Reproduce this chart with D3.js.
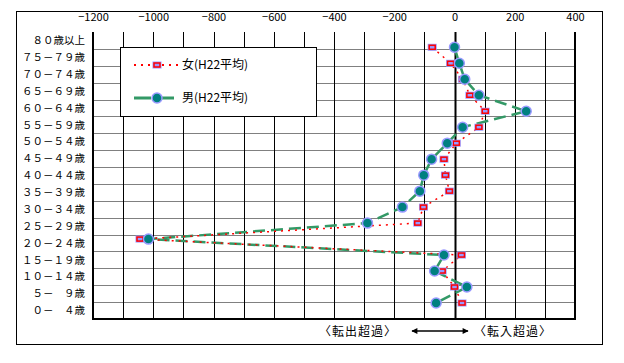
<!DOCTYPE html>
<html>
<head>
<meta charset="utf-8">
<script src="https://cdn.jsdelivr.net/npm/d3@7"></script>
<style>
body { margin: 0; background: #fff; }
text { font-family: "Noto Sans CJK JP", "DejaVu Sans", sans-serif; }
</style>
</head>
<body>
<div id="chart"></div>
<script>
// age groups, top to bottom
var ages = ["８０歳以上", "７５－７９歳", "７０－７４歳", "６５－６９歳", "６０－６４歳",
  "５５－５９歳", "５０－５４歳", "４５－４９歳", "４０－４４歳", "３５－３９歳",
  "３０－３４歳", "２５－２９歳", "２０－２４歳", "１５－１９歳", "１０－１４歳",
  "５－　９歳", "０－　４歳"];

var women = [-74, -13, 27, 51, 102, 81, 6, -35, -30, -17, -103, -122, -1044, 23, -41, 0, 25];
var men = [0, 16, 34, 81, 238, 27, -24, -76, -102, -115, -173, -289, -1016, -35, -66, 41, -61];

var xTicks = [-1200, -1000, -800, -600, -400, -200, 0, 200, 400];
var seriesNames = ["女(H22平均)", "男(H22平均)"];

var svgWidth = 624;
var svgHeight = 363;

var svg = d3.select("#chart")
  .append("svg")
  .attr("width", svgWidth)
  .attr("height", svgHeight);

// outer frame
svg.append("rect")
  .attr("x", 16.5).attr("y", 11.5)
  .attr("width", 586).attr("height", 333)
  .attr("fill", "none").attr("stroke", "#000").attr("stroke-width", 1);

var plot = { left: 93, right: 575, top: 32, bottom: 319 };

var x = d3.scaleLinear().domain([-1200, 400]).range([plot.left, plot.right]);
var yBand = d3.scaleBand().domain(ages).range([plot.top, plot.bottom]);
// points sit on a slightly different scale than the category bands
var yPoint = d3.scalePoint().domain(ages).range([47.3, 303]);

// horizontal grid (gray)
var grid = svg.append("g");
grid.selectAll(".hgrid")
  .data(ages.slice(1))
  .enter()
  .append("line")
  .attr("x1", plot.left).attr("x2", plot.right)
  .attr("y1", d => Math.round(yBand(d)) + 0.5)
  .attr("y2", d => Math.round(yBand(d)) + 0.5)
  .attr("stroke", "#808080").attr("stroke-width", 1);

// vertical grid every 100 (black)
grid.selectAll(".vgrid")
  .data(d3.range(-1100, 400, 100))
  .enter()
  .append("line")
  .attr("x1", d => Math.round(x(d)) + 0.5)
  .attr("x2", d => Math.round(x(d)) + 0.5)
  .attr("y1", plot.top).attr("y2", plot.bottom)
  .attr("stroke", "#000")
  .attr("stroke-width", d => d === 0 ? 2 : 1);

// left, right, bottom borders
svg.append("path")
  .attr("d", `M${plot.left},${plot.top}V${plot.bottom}H${plot.right}V${plot.top}`)
  .attr("fill", "none").attr("stroke", "#000").attr("stroke-width", 2);

// top axis labels
var xAxis = svg.append("g")
  .attr("transform", `translate(0, ${plot.top})`)
  .call(d3.axisTop(x).tickValues(xTicks).tickSize(0).tickPadding(11)
    .tickFormat(d => d3.format("d")(d).replace("-", "−")));
xAxis.select(".domain").remove();
xAxis.selectAll("text").attr("font-size", "11px").attr("fill", "#000");

// y labels
svg.append("g").selectAll("text")
  .data(ages)
  .enter()
  .append("text")
  .attr("x", 85)
  .attr("y", d => yBand(d) + yBand.bandwidth() / 2)
  .attr("dy", "0.35em")
  .attr("text-anchor", "end")
  .attr("font-size", "10.5px")
  .text(d => d);

// lines
var line = d3.line()
  .x(d => x(d.v))
  .y(d => yPoint(d.age));

var womenData = ages.map((a, i) => ({ age: a, v: women[i] }));
var menData = ages.map((a, i) => ({ age: a, v: men[i] }));

svg.append("path")
  .datum(menData)
  .attr("d", line)
  .attr("fill", "none")
  .attr("stroke", "#339966")
  .attr("stroke-width", 2.5)
  .attr("stroke-dasharray", "12,6");

svg.append("path")
  .datum(womenData)
  .attr("d", line)
  .attr("fill", "none")
  .attr("stroke", "#ff0000")
  .attr("stroke-width", 1.5)
  .attr("stroke-dasharray", "2,5");

function womenMarker(g) {
  g.append("rect")
    .attr("x", -4.5).attr("y", -3.5).attr("width", 9).attr("height", 7)
    .attr("fill", "#9999ff");
  g.append("rect")
    .attr("x", -3).attr("y", -2).attr("width", 6).attr("height", 4)
    .attr("fill", "none").attr("stroke", "#ff0000").attr("stroke-width", 1.5);
}

function menMarker(g) {
  g.append("circle")
    .attr("r", 5)
    .attr("fill", "#008080")
    .attr("stroke", "#9999ff")
    .attr("stroke-width", 1.5);
}

svg.append("g").selectAll("g")
  .data(womenData)
  .enter()
  .append("g")
  .attr("transform", d => `translate(${x(d.v)}, ${yPoint(d.age)})`)
  .each(function() { womenMarker(d3.select(this)); });

svg.append("g").selectAll("g")
  .data(menData)
  .enter()
  .append("g")
  .attr("transform", d => `translate(${x(d.v)}, ${yPoint(d.age)})`)
  .each(function() { menMarker(d3.select(this)); });

// legend
var legend = svg.append("g");
legend.append("rect")
  .attr("x", 120.5).attr("y", 47.5)
  .attr("width", 196).attr("height", 69)
  .attr("fill", "#fff").attr("stroke", "#000").attr("stroke-width", 1);

legend.append("line")
  .attr("x1", 134).attr("x2", 180).attr("y1", 65).attr("y2", 65)
  .attr("stroke", "#ff0000").attr("stroke-width", 2).attr("stroke-dasharray", "2,5");
womenMarker(legend.append("g").attr("transform", "translate(157, 65)"));
legend.append("text")
  .attr("x", 182).attr("y", 65).attr("dy", "0.35em")
  .attr("font-size", "12px").text(seriesNames[0]);

legend.append("line")
  .attr("x1", 134).attr("x2", 180).attr("y1", 98).attr("y2", 98)
  .attr("stroke", "#339966").attr("stroke-width", 3).attr("stroke-dasharray", "17,6");
menMarker(legend.append("g").attr("transform", "translate(157, 98)"));
legend.append("text")
  .attr("x", 182).attr("y", 98).attr("dy", "0.35em")
  .attr("font-size", "12px").text(seriesNames[1]);

// bottom notes
svg.append("text")
  .attr("x", 358).attr("y", 332).attr("dy", "0.35em")
  .attr("text-anchor", "middle").attr("font-size", "12px")
  .attr("letter-spacing", "1px")
  .text("〈転出超過〉");
svg.append("text")
  .attr("x", 513).attr("y", 332).attr("dy", "0.35em")
  .attr("text-anchor", "middle").attr("font-size", "12px")
  .attr("letter-spacing", "1px")
  .text("〈転入超過〉");

var defs = svg.append("defs");
defs.append("marker")
  .attr("id", "arrow")
  .attr("viewBox", "0 0 10 10")
  .attr("refX", 9).attr("refY", 5)
  .attr("markerWidth", 8).attr("markerHeight", 6)
  .attr("markerUnits", "userSpaceOnUse")
  .attr("orient", "auto-start-reverse")
  .append("path")
  .attr("d", "M0,0L10,5L0,10Z")
  .attr("fill", "#000");

svg.append("line")
  .attr("x1", 412).attr("x2", 468).attr("y1", 331).attr("y2", 331)
  .attr("stroke", "#000").attr("stroke-width", 1.5)
  .attr("marker-start", "url(#arrow)")
  .attr("marker-end", "url(#arrow)");
</script>
</body>
</html>
